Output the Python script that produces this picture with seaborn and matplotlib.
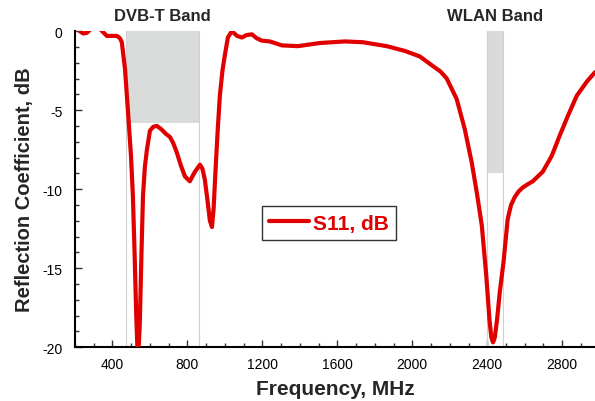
import matplotlib
matplotlib.use("Agg")
import matplotlib.pyplot as plt
from matplotlib.ticker import MultipleLocator
import pandas as pd
import seaborn as sns

# S11 curve
freq_mhz = [225, 245, 264, 290, 320, 345, 370, 400, 424, 440, 450, 467, 483, 499, 509,
            518, 527, 536, 546, 555, 563, 573, 584, 600, 618, 637, 660, 685, 707, 725,
            744, 765, 787, 813, 840, 867, 880, 893, 907, 920, 931, 940, 950, 962, 973,
            987, 1000, 1016, 1037, 1065, 1091, 1115, 1144, 1170, 1197, 1240, 1304, 1389,
            1507, 1640, 1736, 1864, 1960, 2040, 2109, 2150, 2184, 2237, 2280, 2317, 2344,
            2371, 2395, 2412, 2422, 2431, 2440, 2452, 2467, 2487, 2509, 2527, 2547, 2567,
            2589, 2615, 2643, 2696, 2744, 2787, 2829, 2877, 2931, 2975]
s11_db = [0.0, -0.15, -0.1, 0.2, 0.3, 0.0, -0.3, -0.3, -0.3, -0.45, -0.7, -2.4, -5.1, -7.9, -10.4,
          -14.0, -18.0, -21.0, -18.5, -14.0, -10.4, -8.6, -7.5, -6.3, -6.05, -6.0, -6.2, -6.5, -6.7, -7.1,
          -7.7, -8.5, -9.2, -9.5, -8.9, -8.45, -8.7, -9.4, -10.7, -12.0, -12.4, -11.2, -8.8, -6.2, -4.1,
          -2.5, -1.5, -0.4, 0.0, -0.3, -0.4, -0.25, -0.2, -0.45, -0.6, -0.65, -0.9, -0.95,
          -0.75, -0.65, -0.7, -0.95, -1.25, -1.6, -2.2, -2.55, -3.0, -4.3, -6.2, -8.3, -10.2,
          -12.3, -15.5, -18.3, -19.4, -19.7, -19.4, -18.3, -16.5, -14.6, -11.9, -11.0, -10.5, -10.15,
          -9.9, -9.7, -9.5, -8.9, -7.9, -6.6, -5.4, -4.1, -3.2, -2.6]

# frequency bands: label, start, stop, and how far down the shading goes (dB)
band_names = ["DVB-T Band", "WLAN Band"]
band_start = [470, 2400]
band_stop = [862, 2483.5]
band_floor = [-5.8, -9.0]

df = pd.DataFrame({"Frequency": freq_mhz, "S11": s11_db})

sns.set_style("ticks")
plt.rcParams["font.family"] = ["Liberation Sans", "DejaVu Sans"]
plt.rcParams["axes.unicode_minus"] = False

fig = plt.figure(figsize=(5.95, 4.02), dpi=100)
ax = fig.add_axes([0.126, 0.134, 0.874, 0.786])

for name, x0, x1, floor in zip(band_names, band_start, band_stop, band_floor):
    ax.fill_between([x0, x1], floor, 0.15, color="#d9dbdb", lw=0, zorder=1)
    for xv in (x0, x1):
        ax.axvline(xv, color="#d0d0d0", lw=0.8, zorder=1)
    ax.text((x0 + x1) / 2, 0.5, name, ha="center", va="bottom",
            fontsize=12, fontweight="bold", clip_on=False)

sns.lineplot(data=df, x="Frequency", y="S11", ax=ax, color="#e00000", lw=3,
             estimator=None, sort=False, label="S11, dB", zorder=3)
ax.lines[-1].set_solid_joinstyle("round")

ax.set_xlim(200, 2975)
ax.set_ylim(-20, 0)
ax.set_xticks([400, 800, 1200, 1600, 2000, 2400, 2800])
ax.xaxis.set_minor_locator(MultipleLocator(100))
ax.yaxis.set_major_locator(MultipleLocator(5))
ax.yaxis.set_minor_locator(MultipleLocator(1))
ax.tick_params(which="both", direction="in", width=1, colors="#333333", labelcolor="black")
ax.tick_params(which="major", length=5, labelsize=10)
ax.tick_params(axis="y", which="major", pad=9)
ax.tick_params(axis="x", which="major", pad=7)
ax.tick_params(which="minor", length=3)

sns.despine(ax=ax)
for side in ("left", "bottom"):
    ax.spines[side].set_linewidth(1.5)
    ax.spines[side].set_color("black")

ax.set_xlabel("Frequency, MHz", fontsize=15, fontweight="bold", labelpad=6)
ax.set_ylabel("Reflection Coefficient, dB", fontsize=14.5, fontweight="bold", labelpad=6)

leg = ax.legend(loc="center", bbox_to_anchor=(0.488, 0.392), frameon=True, fancybox=False,
                edgecolor="black", prop={"size": 15, "weight": "bold"},
                handlelength=1.9, handletextpad=0.2, borderpad=0.35, borderaxespad=0)
leg.get_frame().set_linewidth(1.0)
for t in leg.get_texts():
    t.set_color("#e00000")

fig.savefig("out.png", dpi=100)
